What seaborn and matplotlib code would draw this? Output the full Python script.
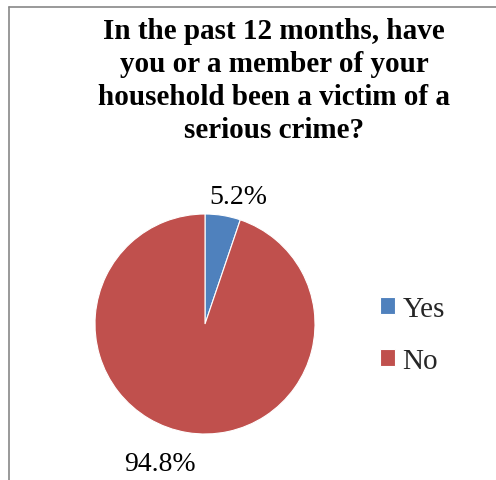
import matplotlib
matplotlib.use("Agg")
import matplotlib.pyplot as plt
import seaborn as sns
from matplotlib.lines import Line2D

sns.set_theme(style="white")
plt.rcParams['font.family'] = ['Liberation Serif', 'DejaVu Serif']

title_lines = ["In the past 12 months, have",
               "you or a member of your",
               "household been a victim of a",
               "serious crime?"]
categories = ["Yes", "No"]
values = [5.2, 94.8]
colors = ["#4F81BD", "#C0504D"]

W, H = 496, 481
fig = plt.figure(figsize=(W / 100, H / 100), dpi=100)
fig.patch.set_facecolor("white")

cx, cy, r = 205, 325, 110
ax = fig.add_axes([(cx - r) / W, (H - cy - r) / H, 2 * r / W, 2 * r / H])
wedges, _ = ax.pie(values, colors=colors, startangle=90, counterclock=False,
                   radius=1.0, wedgeprops=dict(linewidth=0.8, edgecolor="white"))
ax.set_xlim(-1, 1)
ax.set_ylim(-1, 1)
ax.set_aspect("equal")
ax.axis("off")

# percentage labels
label_pos = [(0.30, 1.16), (-0.41, -1.27)]
for (x, y), v in zip(label_pos, values):
    ax.text(x, y, f"{v:.1f}%", ha="center", va="center", fontsize=20,
            color="black", clip_on=False)

# title, one line per baseline
baselines = [39, 72, 105, 138]
for line, b in zip(title_lines, baselines):
    fig.text(274 / W, 1 - b / H, line, ha="center", va="baseline", fontsize=21,
             fontweight="bold", color="black")

# legend
leg = fig.legend(wedges, categories, loc="center left",
                 bbox_to_anchor=(380 / W, 1 - 336 / H), frameon=False,
                 fontsize=21, handlelength=0.53, handleheight=0.53,
                 handletextpad=0.24, labelspacing=0.9, borderpad=0,
                 borderaxespad=0)

# frame lines (chart border, cut by image edges)
fig.add_artist(Line2D([8.5 / W, 1.0], [1 - 7.5 / H, 1 - 7.5 / H],
                      transform=fig.transFigure, color="#888888", linewidth=1.2))
fig.add_artist(Line2D([8.5 / W, 8.5 / W], [0, 1 - 7.5 / H],
                      transform=fig.transFigure, color="#888888", linewidth=1.2))

fig.savefig("out.png", dpi=100, facecolor="white")
